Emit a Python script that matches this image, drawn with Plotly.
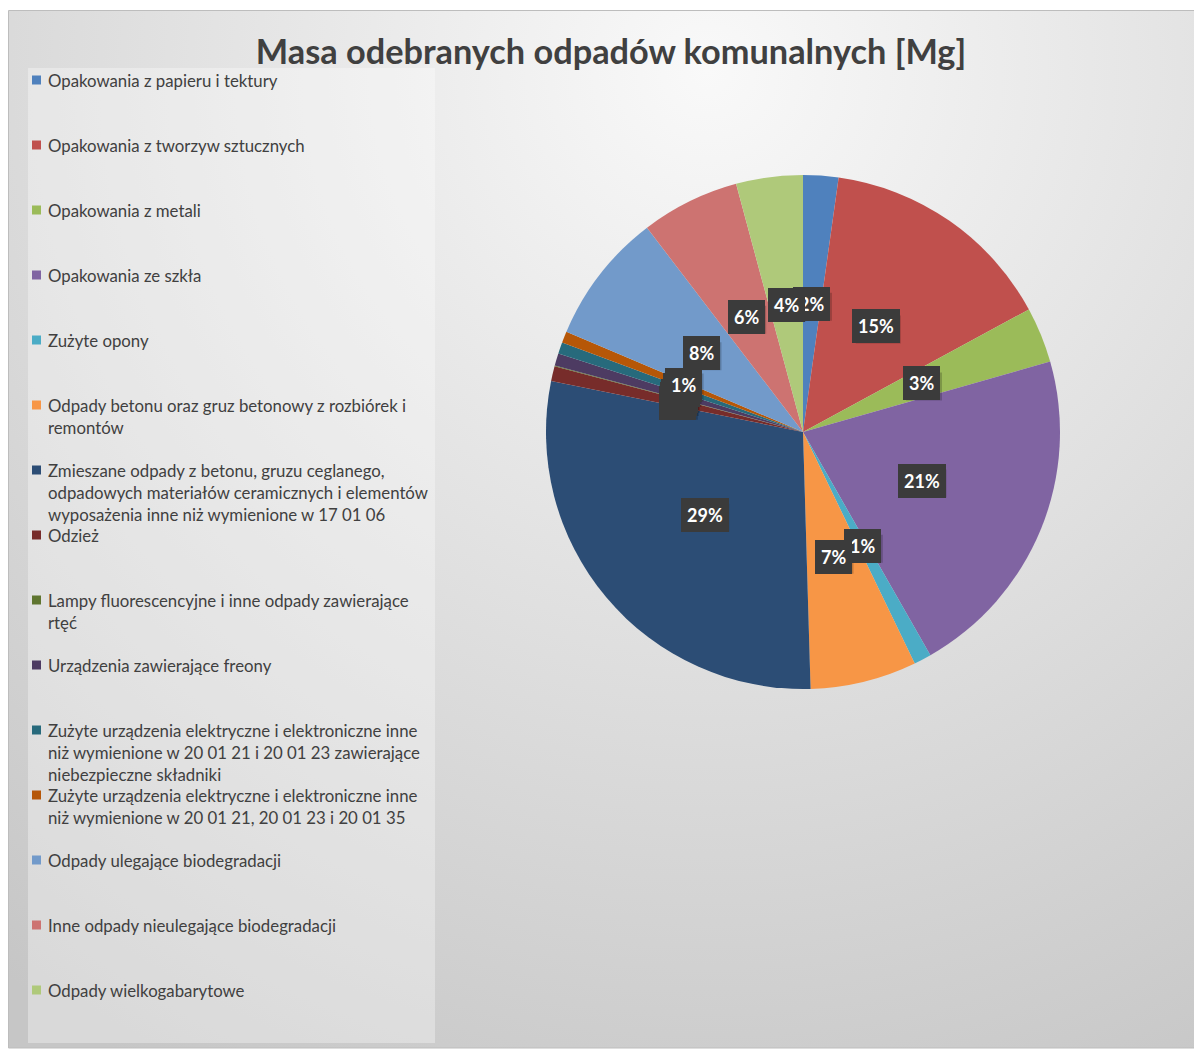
import base64
import math
import plotly.graph_objects as go

# ---------------- data ----------------
categories = [
    "Opakowania z papieru i tektury",
    "Opakowania z tworzyw sztucznych",
    "Opakowania z metali",
    "Opakowania ze szkła",
    "Zużyte opony",
    "Odpady betonu oraz gruz betonowy z rozbiórek i<br>remontów",
    "Zmieszane odpady z betonu, gruzu ceglanego,<br>odpadowych materiałów ceramicznych i elementów<br>wyposażenia inne niż wymienione w 17 01 06",
    "Odzież",
    "Lampy fluorescencyjne i inne odpady zawierające<br>rtęć",
    "Urządzenia zawierające freony",
    "Zużyte urządzenia elektryczne i elektroniczne inne<br>niż wymienione w 20 01 21 i 20 01 23 zawierające<br>niebezpieczne składniki",
    "Zużyte urządzenia elektryczne i elektroniczne inne<br>niż wymienione w 20 01 21, 20 01 23 i 20 01 35",
    "Odpady ulegające biodegradacji",
    "Inne odpady nieulegające biodegradacji",
    "Odpady wielkogabarytowe",
]
values_mg = [22.2, 149.0, 35.0, 212.0, 11.0, 67.0, 287.0, 9.4, 0.5, 7.8, 7.2, 7.2, 82.5, 62.0, 42.0]
colors = [
    "#4F81BD", "#C0504D", "#9BBB59", "#8064A2", "#4BACC6", "#F79646",
    "#2C4D75", "#772C2A", "#5F7530", "#4D3B62", "#276A7C", "#B65708",
    "#729ACA", "#CD7371", "#AFC97A",
]
title_text = "Masa odebranych odpadów komunalnych [Mg]"

# ---------------- layout geometry (page pixels; page has an 8px body margin) ----------------
OFF = 8
W, H = 1194, 1043
CX, CY, R = 803, 432, 257
FONT = "Lato, 'Open Sans', sans-serif"


def fx(x):
    return (x - OFF) / W


def fy(y):
    return 1 - (y - OFF) / H


fig = go.Figure(
    go.Pie(
        labels=[c.replace("<br>", " ") for c in categories],
        values=values_mg,
        sort=False,
        direction="clockwise",
        rotation=0,
        marker=dict(colors=colors, line=dict(width=0)),
        textinfo="none",
        showlegend=False,
        domain=dict(x=[fx(CX - R), fx(CX + R)], y=[fy(CY + R), fy(CY - R)]),
    )
)

shapes = []
annotations = []

# ---------------- data labels (boxes at half radius) ----------------
total = sum(values_mg)
cum = 0.0
for v in values_mg:
    mid = (cum + v / 2) / total * 2 * math.pi
    cum += v
    px = CX + 0.5 * R * math.sin(mid)
    py = CY - 0.5 * R * math.cos(mid)
    pct = int(100 * v / total + 0.5)
    label = f"{pct}%"
    bw = 9 * len(label) + 18
    # soft drop shadow behind the label box
    shapes.append(dict(type="rect", xref="paper", yref="paper", layer="above",
                       x0=fx(px - bw / 2 + 2), x1=fx(px + bw / 2 + 2),
                       y0=fy(py + 14 + 3), y1=fy(py - 14 + 3),
                       line=dict(width=0), fillcolor="rgba(0,0,0,0.2)"))
    annotations.append(dict(
        x=fx(px), y=fy(py), xref="paper", yref="paper",
        text=f"<b>{label}</b>", showarrow=False,
        font=dict(family=FONT, size=18, color="white"),
        bgcolor="#3b3b3b", borderpad=6, borderwidth=0,
        xanchor="center", yanchor="middle",
    ))

# ---------------- manual legend ----------------
# chart area border
shapes.append(dict(type="rect", xref="paper", yref="paper",
                   x0=fx(8.5), x1=fx(1201), y0=fy(1048), y1=fy(10.5),
                   line=dict(color="#bdbdbd", width=1), fillcolor="rgba(0,0,0,0)", layer="below"))
# legend box
shapes.append(dict(type="rect", xref="paper", yref="paper",
                   x0=fx(28), x1=fx(435), y0=fy(1043), y1=fy(68),
                   line=dict(width=0), fillcolor="rgba(255,255,255,0.33)", layer="below"))
LEG_Y0, LEG_STEP, LINE_H = 80, 65, 22
for i, (name, col) in enumerate(zip(categories, colors)):
    yc = LEG_Y0 + LEG_STEP * i
    shapes.append(dict(type="rect", xref="paper", yref="paper",
                       x0=fx(32), x1=fx(41), y0=fy(yc + 4.5), y1=fy(yc - 4.5),
                       line=dict(width=0), fillcolor=col))
    annotations.append(dict(
        x=fx(46), y=fy(yc - LINE_H / 2 - 1), xref="paper", yref="paper",
        text=name, showarrow=False, align="left",
        xanchor="left", yanchor="top",
        font=dict(family=FONT, size=16.8, color="#404040"),
    ))

# ---------------- background gradient ----------------
svg = (
    f'<svg xmlns="http://www.w3.org/2000/svg" width="{W}" height="{H}">'
    '<defs><radialGradient id="g" gradientUnits="userSpaceOnUse" cx="700" cy="60" r="1150">'
    '<stop offset="0" stop-color="#f9f9f9"/>'
    '<stop offset="0.45" stop-color="#e2e2e2"/>'
    '<stop offset="1" stop-color="#c6c6c6"/>'
    '</radialGradient></defs>'
    '<rect width="100%" height="100%" fill="url(#g)"/></svg>'
)
src = "data:image/svg+xml;base64," + base64.b64encode(svg.encode()).decode()

fig.update_layout(
    width=W, height=H,
    margin=dict(l=0, r=0, t=0, b=0),
    paper_bgcolor="white",
    plot_bgcolor="rgba(0,0,0,0)",
    showlegend=False,
    title=dict(text=f"<b>{title_text}</b>", x=fx(611), y=fy(52),
               xanchor="center", yanchor="middle", xref="paper", yref="paper",
               font=dict(family=FONT, size=34.3, color="#404040")),
    annotations=annotations,
    shapes=shapes,
    images=[dict(source=src, xref="paper", yref="paper", x=fx(8.5), y=fy(10.5),
                 sizex=fx(1201) - fx(8.5), sizey=fy(10.5) - fy(1048),
                 sizing="stretch", xanchor="left", yanchor="top", layer="below")],
)

fig.write_html("out.html")
